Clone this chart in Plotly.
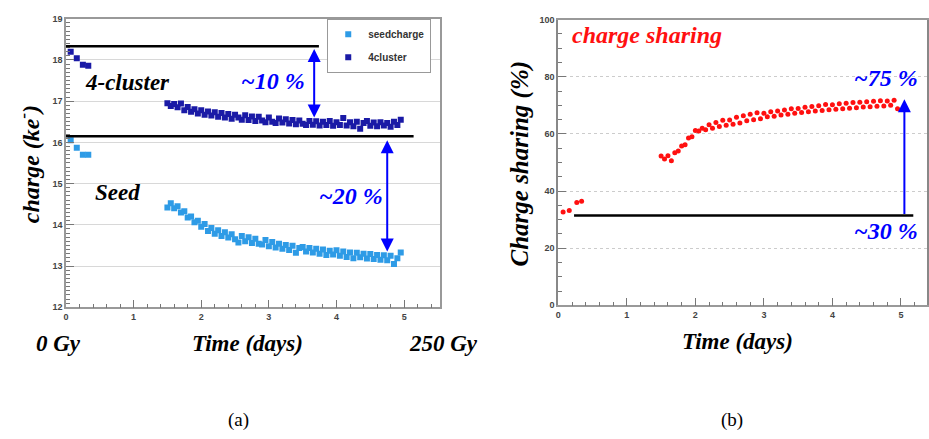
import plotly.graph_objects as go

# ---------------- data ----------------
early_x = [0.07, 0.16, 0.25, 0.33]
seed_early = [16.05, 15.87, 15.70, 15.70]
cluster_early = [18.20, 18.04, 17.88, 17.86]
share_early_x = [0.07, 0.16, 0.27, 0.34]
share_early = [32.7, 33.2, 36.0, 36.4]

time_days = [1.50, 1.55, 1.60, 1.65, 1.70, 1.75, 1.80, 1.85, 1.90, 1.95,
             2.00, 2.05, 2.10, 2.15, 2.20, 2.25, 2.30, 2.35, 2.40, 2.45,
             2.50, 2.55, 2.60, 2.65, 2.70, 2.75, 2.80, 2.85, 2.90, 2.95,
             3.00, 3.05, 3.10, 3.15, 3.20, 3.25, 3.30, 3.35, 3.40, 3.45,
             3.50, 3.55, 3.60, 3.65, 3.70, 3.75, 3.80, 3.85, 3.90, 3.95,
             4.00, 4.05, 4.10, 4.15, 4.20, 4.25, 4.30, 4.35, 4.40, 4.45,
             4.50, 4.55, 4.60, 4.65, 4.70, 4.75, 4.80, 4.85, 4.90, 4.95]

cluster_charge = [16.95, 16.88, 16.93, 16.85, 16.94, 16.78, 16.86, 16.74, 16.80, 16.70,
                  16.78, 16.67, 16.75, 16.65, 16.73, 16.62, 16.71, 16.60, 16.69, 16.57,
                  16.67, 16.60, 16.55, 16.66, 16.54, 16.63, 16.52, 16.62, 16.53, 16.49,
                  16.60, 16.50, 16.47, 16.58, 16.48, 16.56, 16.46, 16.54, 16.44, 16.53,
                  16.45, 16.42, 16.52, 16.43, 16.51, 16.41, 16.50, 16.42, 16.52, 16.40,
                  16.49, 16.42, 16.59, 16.41, 16.49, 16.39, 16.50, 16.33, 16.47, 16.52,
                  16.40, 16.48, 16.39, 16.49, 16.41, 16.47, 16.38, 16.50, 16.42, 16.55]

seed_charge = [14.42, 14.52, 14.40, 14.45, 14.30, 14.33, 14.18, 14.20, 14.06, 14.10,
               13.95, 14.02, 13.85, 13.92, 13.78, 13.87, 13.73, 13.82, 13.69, 13.77,
               13.65, 13.57, 13.73, 13.60, 13.70, 13.56, 13.66, 13.54, 13.52, 13.63,
               13.48, 13.58, 13.45, 13.54, 13.42, 13.51, 13.39, 13.49, 13.32, 13.44,
               13.46, 13.35, 13.44, 13.33, 13.42, 13.30, 13.40, 13.27, 13.37, 13.28,
               13.38, 13.25, 13.35, 13.22, 13.33, 13.19, 13.32, 13.21, 13.30, 13.18,
               13.29, 13.17, 13.27, 13.15, 13.26, 13.14, 13.25, 13.05, 13.19, 13.33]

charge_sharing = [52.3, 51.2, 52.4, 50.6, 53.4, 54.0, 55.8, 56.2, 58.6, 59.0,
                  61.2, 61.0, 62.0, 61.5, 63.2, 62.0, 64.0, 62.6, 64.8, 63.0,
                  64.9, 63.4, 65.8, 63.8, 66.4, 64.6, 66.9, 65.0, 67.4, 65.3,
                  67.2, 66.0, 67.8, 66.2, 68.0, 66.6, 68.4, 66.9, 68.8, 67.2,
                  68.9, 67.5, 69.3, 67.8, 69.6, 68.0, 69.9, 68.2, 70.3, 68.5,
                  70.2, 68.6, 70.6, 68.8, 70.7, 69.0, 71.0, 69.2, 71.1, 69.4,
                  71.3, 69.5, 71.4, 69.7, 71.6, 69.8, 71.5, 70.0, 71.8, 68.8]

# reference lines / arrows (data units)
ref_cluster_level = 18.33
ref_seed_level = 16.15
ref_share_level = 31.4

W, H = 929, 439
def px(v):
    return v / W
def py(v):
    return 1 - v / H

SERIF = "Liberation Serif"
SANS = "Liberation Sans"
BLUE = "#0000ff"

fig = go.Figure()

fig.add_trace(go.Scatter(
    x=early_x + time_days, y=seed_early + seed_charge, mode="markers",
    name="seedcharge", xaxis="x", yaxis="y", legendgroup="a",
    marker=dict(color="#2e9be6", size=6, symbol="square"),
    error_y=dict(type="constant", value=0.03, thickness=1, width=0, color="#2e9be6")))
fig.add_trace(go.Scatter(
    x=early_x + time_days, y=cluster_early + cluster_charge, mode="markers",
    name="4cluster", xaxis="x", yaxis="y", legendgroup="b",
    marker=dict(color="#1a1aa6", size=6, symbol="square"),
    error_y=dict(type="constant", value=0.03, thickness=1, width=0, color="#1a1aa6")))
fig.add_trace(go.Scatter(
    x=share_early_x + time_days, y=share_early + charge_sharing, mode="markers",
    name="charge sharing", xaxis="x2", yaxis="y2", showlegend=False,
    marker=dict(color="#ff1010", size=5, symbol="circle")))

tickfont = dict(family=SANS, size=9, color="#444", weight="bold")
common_x = dict(ticks="inside", ticklen=8, tickwidth=1, tickcolor="#777",
                showline=True, linecolor="#999", linewidth=1.5, mirror=True,
                showgrid=False, zeroline=False, tickfont=tickfont, dtick=1, tick0=0)

fig.update_layout(
    width=W, height=H, margin=dict(l=0, r=0, t=0, b=0),
    paper_bgcolor="white", plot_bgcolor="white",
    xaxis=dict(domain=[px(63.3), px(439)], range=[0, 5.525], anchor="y",
               minor=dict(dtick=0.2, ticklen=4, ticks="inside", tickcolor="#777"),
               **common_x),
    yaxis=dict(domain=[py(309.3), py(14)], range=[12, 19], anchor="x", dtick=1,
               ticks="inside", ticklen=8, tickcolor="#777", showline=True,
               linecolor="#999", linewidth=1.5, mirror=True, zeroline=False,
               showgrid=True, gridcolor="#d8d8d8", gridwidth=1,
               minor=dict(dtick=0.1, ticklen=4, ticks="inside", tickcolor="#777"),
               tickfont=tickfont),
    xaxis2=dict(domain=[px(558.3), 1.0], range=[0, 5.38], anchor="y2",
                minor=dict(dtick=0.2, ticklen=4, ticks="inside", tickcolor="#777"),
                **common_x),
    yaxis2=dict(domain=[py(307.3), py(15)], range=[0, 100], anchor="x2", dtick=20,
                ticks="inside", ticklen=8, tickcolor="#777", showline=True,
                linecolor="#888", linewidth=2, mirror=True, zeroline=False,
                showgrid=True, gridcolor="#cccccc", griddash="dot", gridwidth=1,
                minor=dict(dtick=5, ticklen=4, ticks="inside", tickcolor="#777"),
                tickfont=tickfont),
    legend=dict(x=px(326), y=py(14), xanchor="left", yanchor="top",
                bgcolor="white", bordercolor="#999", borderwidth=1,
                font=dict(family=SANS, size=10, color="#333", weight="bold"),
                traceorder="grouped", tracegroupgap=4),
    showlegend=True,
)

# horizontal black reference lines
fig.add_shape(type="line", xref="x", yref="y", x0=0, x1=3.74,
              y0=ref_cluster_level, y1=ref_cluster_level, line=dict(color="black", width=2.5))
fig.add_shape(type="line", xref="x", yref="y", x0=0, x1=5.14,
              y0=ref_seed_level, y1=ref_seed_level, line=dict(color="black", width=2.5))
fig.add_shape(type="line", xref="x2", yref="y2", x0=0.23, x1=5.18,
              y0=ref_share_level, y1=ref_share_level, line=dict(color="black", width=2.5))

# arrows
arrow_style = dict(showarrow=True, text="", arrowcolor=BLUE, arrowwidth=2,
                   arrowhead=2, arrowsize=1.3, standoff=0, startstandoff=0)
fig.add_annotation(xref="x", yref="y", axref="x", ayref="y",
                   x=3.67, y=16.60, ax=3.67, ay=18.30,
                   arrowside="end+start", startarrowhead=2, startarrowsize=1.3, **arrow_style)
fig.add_annotation(xref="x", yref="y", axref="x", ayref="y",
                   x=4.75, y=13.35, ax=4.75, ay=16.09,
                   arrowside="end+start", startarrowhead=2, startarrowsize=1.3, **arrow_style)
fig.add_annotation(xref="x2", yref="y2", axref="x2", ayref="y2",
                   x=5.05, y=72.1, ax=5.05, ay=ref_share_level,
                   arrowside="end", **arrow_style)

def label(text, x, y, size=19, color="black", angle=0, family=SERIF, weight="bold", style="italic"):
    fig.add_annotation(xref="paper", yref="paper", x=px(x), y=py(y),
                       xanchor="center", yanchor="middle", showarrow=False,
                       text=text, textangle=angle,
                       font=dict(family=family, size=size, color=color, weight=weight, style=style))

label("4-cluster", 125, 79, 23)
label("Seed", 115, 192, 23)
label("~10 %", 271, 78, 24, BLUE)
label("~20 %", 350, 195, 24, BLUE)
label("charge (ke<sup>-</sup>)", 26, 163, 24, angle=-90)
label("0 Gy", 56, 346, 23)
label("Time (days)", 246, 346, 23)
label("250 Gy", 443, 346, 23)

label("charge sharing", 647, 31, 24, "#ff1010")
label("~75 %", 888, 75, 24, BLUE)
label("~30 %", 888, 231, 24, BLUE)
label("Charge sharing (%)", 520, 162, 25, angle=-90)
label("Time (days)", 738, 344, 23)

label("(a)", 237, 425, 19, weight="normal", style="normal")
label("(b)", 733, 425, 19, weight="normal", style="normal")

fig.write_html("out.html")
